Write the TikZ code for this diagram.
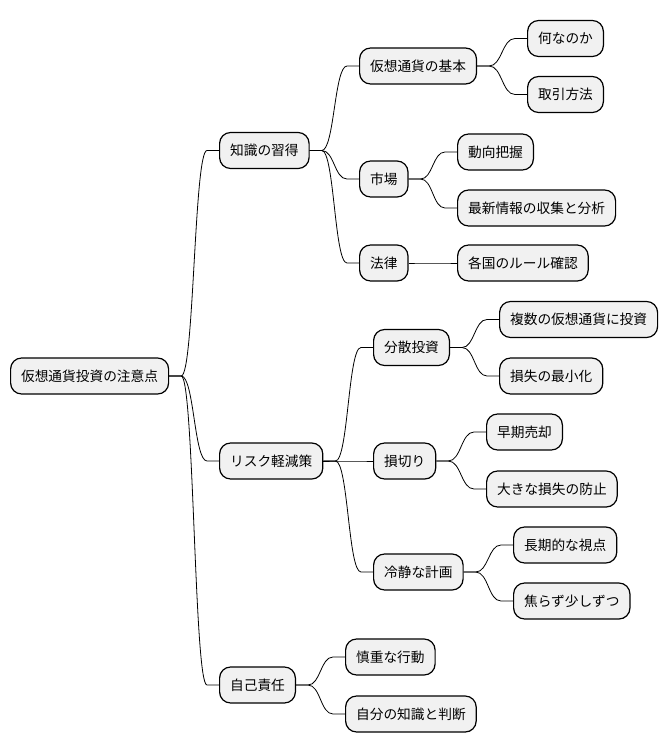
\documentclass[tikz,border=0pt]{standalone}
\usepackage{fontspec}
\newfontfamily\cjk{Noto Sans CJK JP}
\usetikzlibrary{calc}
\definecolor{boxfill}{HTML}{F1F1F1}
\tikzset{
  mmnode/.style={draw=black, line width=1.2pt, fill=boxfill, rounded corners=11pt,
    inner xsep=10.5pt, inner ysep=0pt, minimum height=36pt, anchor=west,
    font=\cjk\fontsize{13.7}{16}\selectfont, text=black},
  edge/.style={draw=black, line width=0.8pt}
}
\newcommand\conn[2]{\draw[edge] let \p1=(#1.east), \p2=(#2.west) in
  (\p1) -- ({\x1+12pt},\y1) .. controls ({(\x1+\x2)/2},\y1) and ({(\x1+\x2)/2},\y2) .. ({\x2-12pt},\y2) -- (\p2);}
\begin{document}
\begin{tikzpicture}[x=1pt,y=-1pt]
\useasboundingbox (0,0) rectangle (670,752);
\node[mmnode] (root) at (10,376) {仮想通貨投資の注意点};
\node[mmnode] (k) at (219,150.5) {知識の習得};
\node[mmnode] (kb) at (359,66) {仮想通貨の基本};
\node[mmnode] (kb1) at (527,38.5) {何なのか};
\node[mmnode] (kb2) at (527,94.5) {取引方法};
\node[mmnode] (km) at (359,179) {市場};
\node[mmnode] (km1) at (457,152) {動向把握};
\node[mmnode] (km2) at (457,208) {最新情報の収集と分析};
\node[mmnode] (kl) at (359,263) {法律};
\node[mmnode] (kl1) at (457,263) {各国のルール確認};
\node[mmnode] (r) at (219,461) {リスク軽減策};
\node[mmnode] (rd) at (373,347.5) {分散投資};
\node[mmnode] (rd1) at (499,319.5) {複数の仮想通貨に投資};
\node[mmnode] (rd2) at (499,376) {損失の最小化};
\node[mmnode] (rs) at (373,461) {損切り};
\node[mmnode] (rs1) at (486,432) {早期売却};
\node[mmnode] (rs2) at (486,489) {大きな損失の防止};
\node[mmnode] (rc) at (373,572) {冷静な計画};
\node[mmnode] (rc1) at (513,545) {長期的な視点};
\node[mmnode] (rc2) at (513,601) {焦らず少しずつ};
\node[mmnode] (s) at (219,685) {自己責任};
\node[mmnode] (s1) at (345,657) {慎重な行動};
\node[mmnode] (s2) at (345,714) {自分の知識と判断};
\conn{root}{k}
\conn{root}{r}
\conn{root}{s}
\conn{k}{kb}
\conn{k}{km}
\conn{k}{kl}
\conn{kb}{kb1}
\conn{kb}{kb2}
\conn{km}{km1}
\conn{km}{km2}
\conn{kl}{kl1}
\conn{r}{rd}
\conn{r}{rs}
\conn{r}{rc}
\conn{rd}{rd1}
\conn{rd}{rd2}
\conn{rs}{rs1}
\conn{rs}{rs2}
\conn{rc}{rc1}
\conn{rc}{rc2}
\conn{s}{s1}
\conn{s}{s2}
\end{tikzpicture}
\end{document}
